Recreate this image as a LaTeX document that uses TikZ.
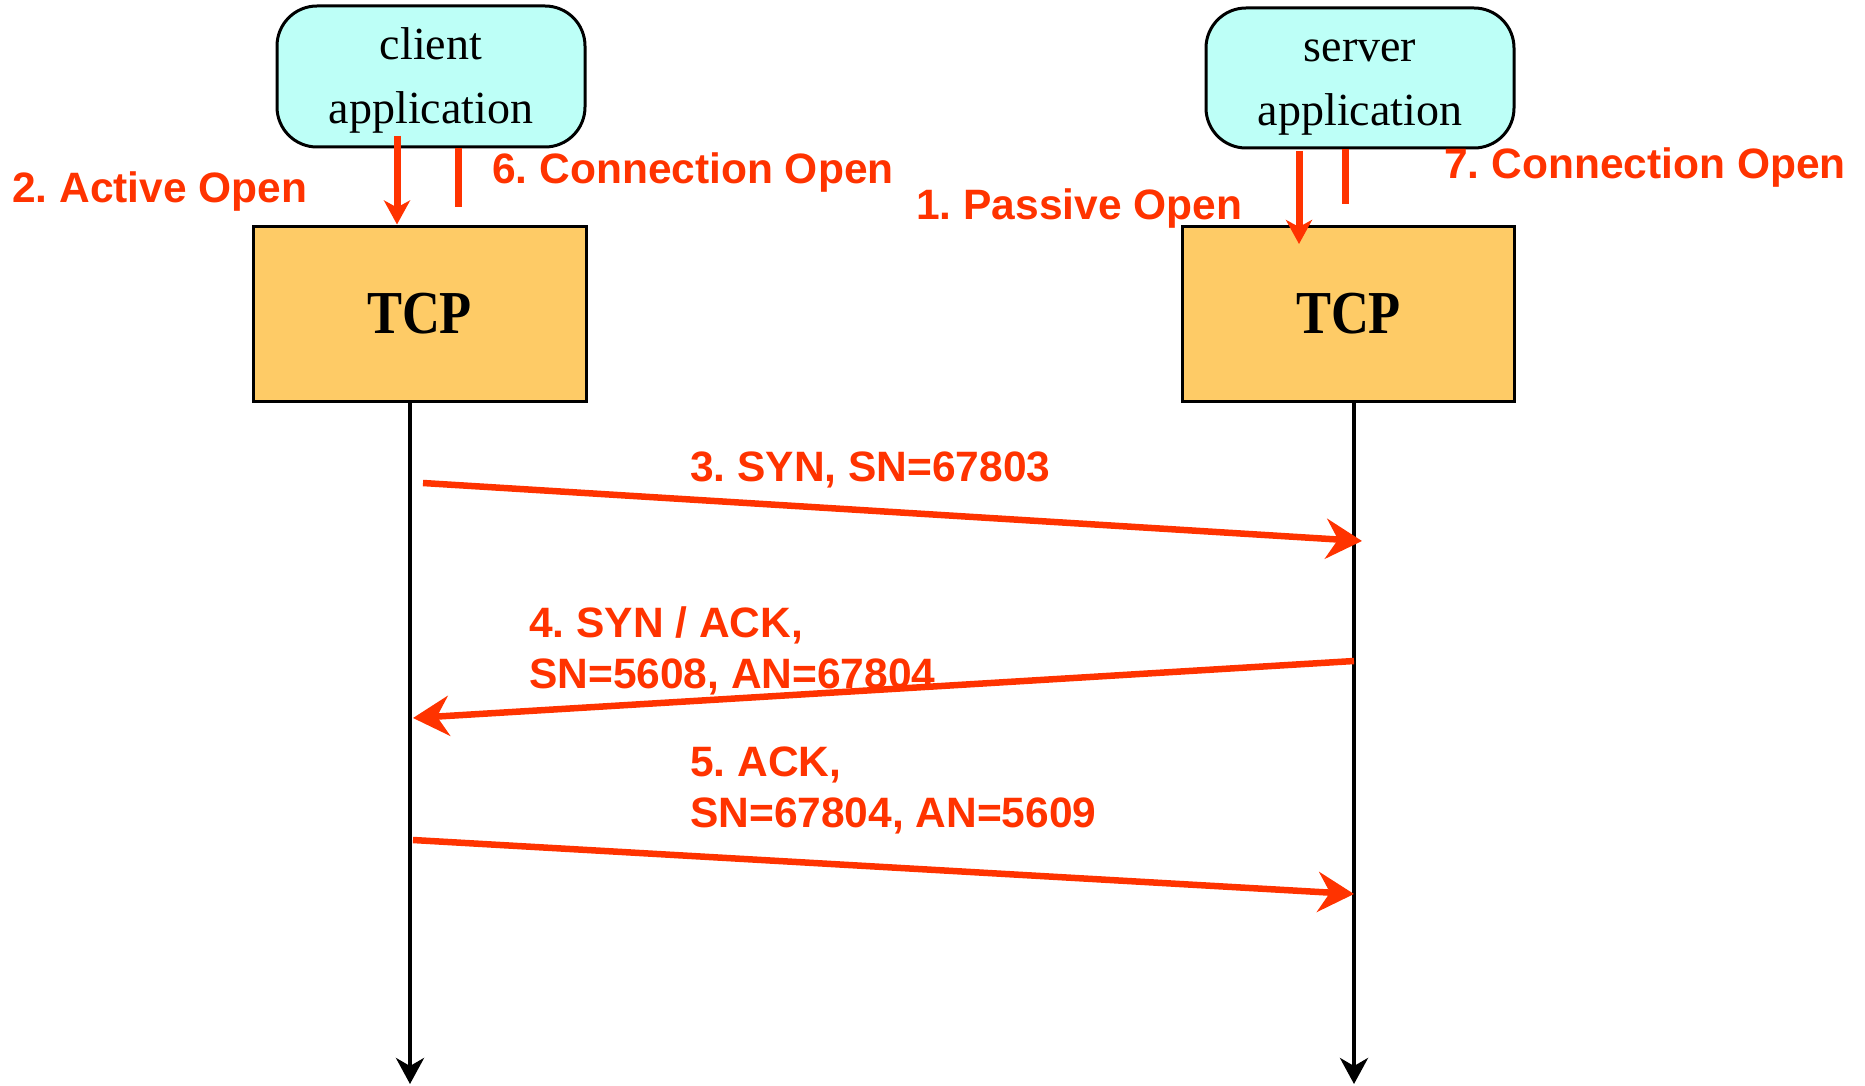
\documentclass[tikz,border=0pt]{standalone}
\usepackage{fontspec}
\setmainfont{Liberation Serif}
\newfontfamily\labfont{Liberation Sans}
\newfontfamily\tcpfont{Liberation Serif}[FakeStretch=0.86]
\usetikzlibrary{arrows.meta}
\definecolor{appfill}{HTML}{BDFFF7}
\definecolor{tcpfill}{HTML}{FECB66}
\definecolor{msgred}{HTML}{FF3300}
\frenchspacing
\begin{document}
\begin{tikzpicture}[x=1pt,y=-1pt,
  appbox/.style={draw=black,line width=3pt,fill=appfill,rounded corners=40pt,inner sep=0pt,
    align=center,font=\fontsize{46}{64}\selectfont},
  tcpbox/.style={draw=black,line width=3pt,fill=tcpfill,inner sep=0pt,
    font=\tcpfont\bfseries\fontsize{61}{70}\selectfont},
  lab/.style={text=msgred,inner sep=0pt,anchor=west,align=left,yshift=-4pt,
    font=\labfont\bfseries\frenchspacing\fontsize{42.5}{51}\selectfont},
  life/.style={draw=black,line width=4pt,-{Stealth[length=26pt,width=28pt,inset=8pt]}},
  msg/.style={draw=msgred,line width=6.5pt,-{Stealth[length=36pt,width=40pt,inset=12pt]}},
  apparrow/.style={draw=msgred,line width=7pt,-{Stealth[length=24pt,width=26pt,inset=7pt]}},
  appbar/.style={draw=msgred,line width=7pt}
]
\useasboundingbox (0,0) rectangle (1865,1086);
% nodes
\node[appbox,minimum width=308pt,minimum height=141pt] (capp) at (431,76.5)
  {\rule{0pt}{43pt}client\\\rule[-12pt]{0pt}{12pt}application};
\node[appbox,minimum width=308pt,minimum height=140pt] (sapp) at (1360,78)
  {\rule{0pt}{43pt}server\\\rule[-12pt]{0pt}{12pt}application};
\node[tcpbox,minimum width=333pt,minimum height=175pt] (ctcp) at (419.5,313.5) {TCP};
\node[tcpbox,minimum width=332pt,minimum height=175pt] (stcp) at (1348.5,313.5) {TCP};
% lifelines
\coordinate (cend) at (410,1084);
\coordinate (send) at (1354,1084);
\draw[life] (ctcp.south -| cend) -- (cend);
\draw[life] (stcp.south -| send) -- (send);
% app <-> tcp
\coordinate (a2) at (397,136);
\draw[apparrow] (a2) -- (ctcp.north -| a2);
\coordinate (b6t) at (458,148);
\coordinate (b6b) at (458,207);
\draw[appbar] (b6t) -- (b6b);
\coordinate (p1) at (1299,151);
\coordinate (p1e) at (1299,244);
\draw[apparrow] (p1) -- (p1e);
\coordinate (b7t) at (1345,149);
\coordinate (b7b) at (1345,204);
\draw[appbar] (b7t) -- (b7b);
% labels
\node[lab] (l2) at (12,188) {2. Active Open};
\node[lab] (l6) at (492,169) {6. Connection Open};
\node[lab] (l1) at (916,205) {1. Passive Open};
\node[lab] (l7) at (1444,164) {7. Connection Open};
% messages
\coordinate (m3s) at (423,483);
\coordinate (m3e) at (1362,541);
\draw[msg] (m3s) -- (m3e);
\node[lab] (l3) at (690,466) {3. SYN, SN=67803};
\coordinate (m4s) at (1354,661);
\coordinate (m4e) at (413,718);
\draw[msg] (m4s) -- (m4e);
\node[lab] (l4) at (529,646.5) {4. SYN / ACK,\\SN=5608, AN=67804};
\coordinate (m5s) at (413,840);
\coordinate (m5e) at (1354,894);
\draw[msg] (m5s) -- (m5e);
\node[lab] (l5) at (690,786.5) {5. ACK,\\SN=67804, AN=5609};
\end{tikzpicture}
\end{document}
